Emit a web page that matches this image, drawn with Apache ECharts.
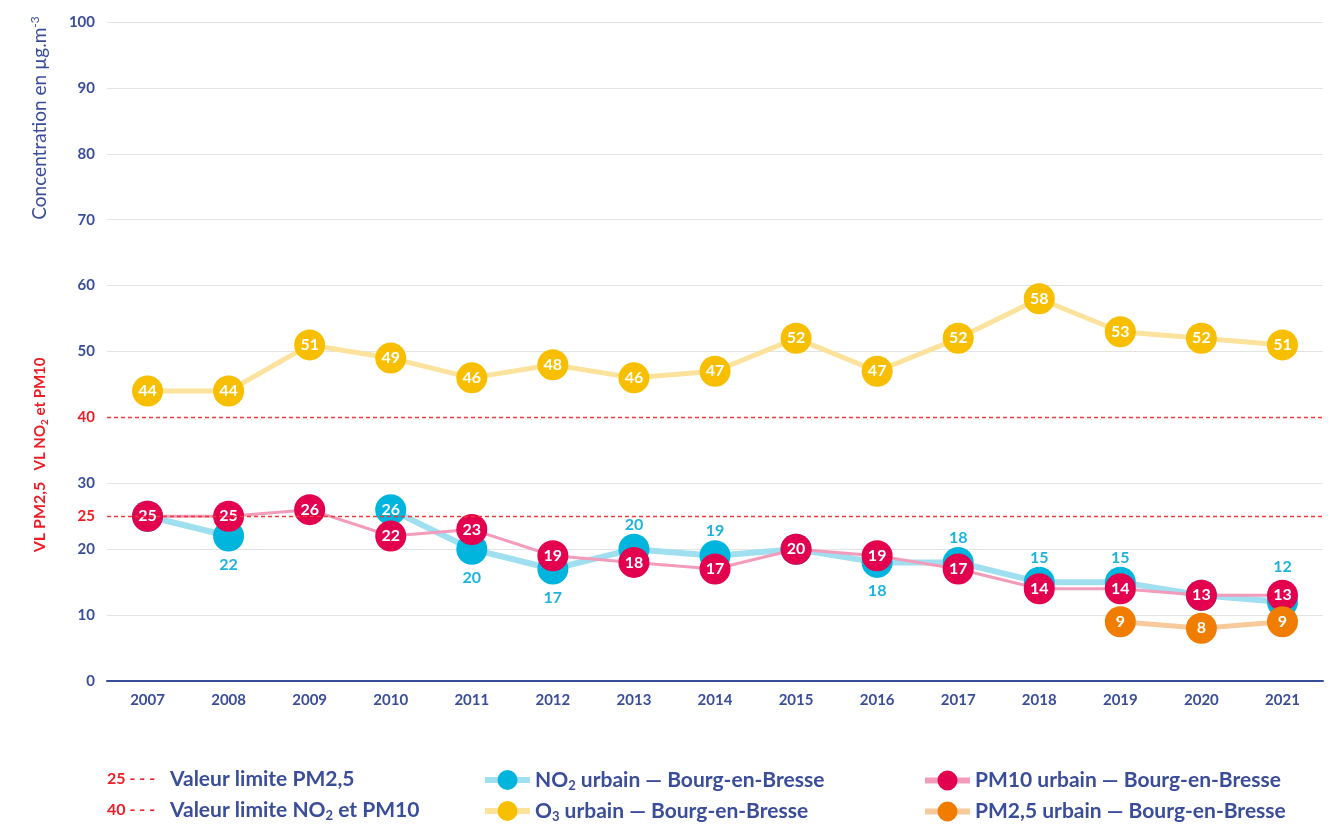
<!DOCTYPE html>
<html><head><meta charset="utf-8">
<script src="https://cdn.jsdelivr.net/npm/echarts@6/dist/echarts.min.js"></script>
<style>html,body{margin:0;padding:0;background:#fff}#c{width:1335px;height:824px}</style>
</head><body><div id="c"></div>
<script>
// ---- data ----
const years = ['2007','2008','2009','2010','2011','2012','2013','2014','2015','2016','2017','2018','2019','2020','2021'];
const no2  = [25, 22, null, 26, 20, 17, 20, 19, 20, 18, 18, 15, 15, 13, 12];
const no2LabelPos = ['none','bottom','none','inside','bottom','bottom','top','top','none','bottom','top','top','top','none','top'];
const o3   = [44, 44, 51, 49, 46, 48, 46, 47, 52, 47, 52, 58, 53, 52, 51];
const pm10 = [25, 25, 26, 22, 23, 19, 18, 17, 20, 19, 17, 14, 14, 13, 13];
const pm25 = [null, null, null, null, null, null, null, null, null, null, null, null, 9, 8, 9];
const limitPM25 = 25;
const limitNO2PM10 = 40;
const seriesNames = ['NO2 urbain — Bourg-en-Bresse', 'O3 urbain — Bourg-en-Bresse', 'PM10 urbain — Bourg-en-Bresse', 'PM2,5 urbain — Bourg-en-Bresse'];

// ---- style ----
const FONT = 'Lato, "Noto Sans", sans-serif';
const BLUE = '#3a4d9a';
const RED = '#ee1c25';
const DASH = '#f03a3a';
const C_NO2 = '#00b5dd', L_NO2 = '#9fdff0';
const C_O3 = '#f8bf00', L_O3 = '#fbe39d';
const C_PM10 = '#e2004f', L_PM10 = '#f29bbb';
const C_PM25 = '#f07d00', L_PM25 = '#f8ca9b';

const inLabel = {show: true, position: 'inside', color: '#fff', fontWeight: 'bold', fontSize: 16, fontFamily: FONT};

const chart = echarts.init(document.getElementById('c'));

function legendFmt(name) {
  if (name.indexOf('NO2') === 0) return '{a|NO}{s|2}{a|' + name.slice(3) + '}';
  if (name.indexOf('O3') === 0) return '{a|O}{s|3}{a|' + name.slice(2) + '}';
  return '{a|' + name + '}';
}
const legendText = {
  rich: {
    a: {fontSize: 21, fontWeight: 'bold', color: BLUE, fontFamily: FONT, lineHeight: 24},
    s: {fontSize: 13, fontWeight: 'bold', color: BLUE, fontFamily: FONT, lineHeight: 13, padding: [11, 0, 0, 0]}
  }
};
function mkLegend(name, left, top) {
  return {data: [name], orient: 'horizontal', left: left, top: top,
    itemWidth: 45, itemHeight: 25, formatter: legendFmt, textStyle: legendText, lineStyle: {width: 6}};
}

const splitColors = ['#e3e3e3','#e3e3e3','#e3e3e3','#e3e3e3','rgba(0,0,0,0)','#e3e3e3','#e3e3e3','#e3e3e3','#e3e3e3','#e3e3e3','#e3e3e3'];
const dashStyle = {color: DASH, type: [4, 3], width: 1.4};

const option = {
  animation: false,
  backgroundColor: '#fff',
  grid: {left: 107, right: 12, top: 22, bottom: 143, containLabel: false},
  xAxis: {
    type: 'category', data: years, boundaryGap: true,
    axisTick: {show: false},
    axisLine: {lineStyle: {color: BLUE, width: 2}},
    axisLabel: {color: BLUE, fontWeight: 'bold', fontSize: 15, fontFamily: FONT, margin: 12}
  },
  yAxis: {
    type: 'value', min: 0, max: 100, interval: 10,
    axisLine: {show: false}, axisTick: {show: false},
    splitLine: {lineStyle: {color: splitColors, width: 1}},
    axisLabel: {
      margin: 12,
      formatter: v => (Number(v) === limitNO2PM10) ? '{r|' + v + '}' : '{b|' + v + '}',
      rich: {
        b: {color: BLUE, fontWeight: 'bold', fontSize: 15, fontFamily: FONT},
        r: {color: RED, fontWeight: 'bold', fontSize: 15, fontFamily: FONT}
      }
    }
  },
  legend: [
    mkLegend(seriesNames[0], 477, 763),
    mkLegend(seriesNames[1], 477, 794),
    mkLegend(seriesNames[2], 917, 765),
    mkLegend(seriesNames[3], 917, 796)
  ],
  series: [
    {
      name: seriesNames[1], type: 'line', data: o3, symbol: 'circle', symbolSize: 31,
      itemStyle: {color: C_O3}, lineStyle: {color: L_O3, width: 5}, label: inLabel,
      markLine: {
        silent: true, symbol: 'none',
        lineStyle: dashStyle,
        data: [
          {yAxis: limitNO2PM10, lineStyle: dashStyle, label: {show: false}},
          {yAxis: limitPM25, lineStyle: dashStyle,
           label: {show: true, position: 'start', formatter: String(limitPM25), color: RED, fontWeight: 'bold', fontSize: 15, fontFamily: FONT, distance: 12}}
        ]
      }
    },
    {
      name: seriesNames[0], type: 'line', symbol: 'circle', symbolSize: 31, connectNulls: false,
      data: no2.map((v, i) => {
        const p = no2LabelPos[i];
        const last = i === no2.length - 1;
        return {value: v, label: {show: p !== 'none', position: p === 'none' ? 'top' : p,
          distance: p === 'bottom' ? 5 : (last ? 12 : 1), color: p === 'inside' ? '#fff' : '#1cb3dc'}};
      }),
      itemStyle: {color: C_NO2}, lineStyle: {color: L_NO2, width: 6},
      label: {fontWeight: 'bold', fontSize: 16, fontFamily: FONT}
    },
    {
      name: seriesNames[2], type: 'line', data: pm10, symbol: 'circle', symbolSize: 31,
      itemStyle: {color: C_PM10}, lineStyle: {color: L_PM10, width: 3}, label: inLabel
    },
    {
      name: seriesNames[3], type: 'line', data: pm25, symbol: 'circle', symbolSize: 31,
      itemStyle: {color: C_PM25}, lineStyle: {color: L_PM25, width: 5}, label: inLabel
    }
  ],
  graphic: [
    {type: 'text', x: 40, y: 118, rotation: Math.PI / 2,
     style: {text: '{m|Concentration en µg.m}{p|-3}', align: 'center', verticalAlign: 'middle',
       rich: {m: {fontSize: 19, fill: BLUE, fontFamily: FONT, lineHeight: 22},
              p: {fontSize: 12, fill: BLUE, fontFamily: FONT, lineHeight: 12, padding: [0, 0, 10, 0]}}}},
    {type: 'text', x: 40, y: 517, rotation: Math.PI / 2,
     style: {text: 'VL PM2,5', align: 'center', verticalAlign: 'middle', fill: RED, font: 'bold 16px ' + FONT}},
    {type: 'text', x: 40, y: 414, rotation: Math.PI / 2,
     style: {text: '{m|VL NO}{s|2}{m| et PM10}', align: 'center', verticalAlign: 'middle',
       rich: {m: {fontSize: 15, fontWeight: 'bold', fill: RED, fontFamily: FONT, lineHeight: 20},
              s: {fontSize: 10, fontWeight: 'bold', fill: RED, fontFamily: FONT, lineHeight: 11, padding: [9, 0, 0, 0]}}}},
    {type: 'text', x: 107, y: 779,
     style: {text: '25 - - -', verticalAlign: 'middle', fill: RED, font: 'bold 16px ' + FONT}},
    {type: 'text', x: 107, y: 810,
     style: {text: '40 - - -', verticalAlign: 'middle', fill: RED, font: 'bold 16px ' + FONT}},
    {type: 'text', x: 170, y: 779,
     style: {text: 'Valeur limite PM2,5', verticalAlign: 'middle', fill: BLUE, font: 'bold 21px ' + FONT}},
    {type: 'text', x: 170, y: 810,
     style: {text: '{a|Valeur limite NO}{s|2}{a| et PM10}', verticalAlign: 'middle',
       rich: {a: {fontSize: 21, fontWeight: 'bold', fill: BLUE, fontFamily: FONT, lineHeight: 24},
              s: {fontSize: 13, fontWeight: 'bold', fill: BLUE, fontFamily: FONT, lineHeight: 13, padding: [11, 0, 0, 0]}}}}
  ]
};
chart.setOption(option);
</script>
</body></html>
